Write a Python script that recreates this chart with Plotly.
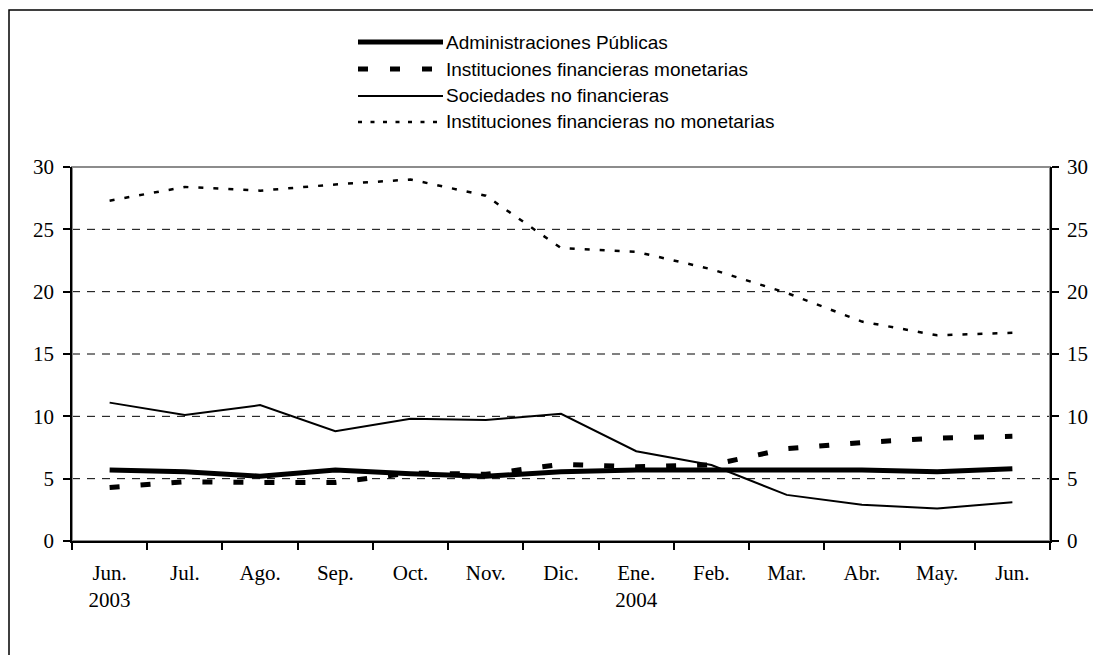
import plotly.graph_objects as go

# ---------------- data ----------------
months = ["2003-06", "2003-07", "2003-08", "2003-09", "2003-10", "2003-11", "2003-12",
          "2004-01", "2004-02", "2004-03", "2004-04", "2004-05", "2004-06"]
tick_labels = ["Jun.<br>2003", "Jul.", "Ago.", "Sep.", "Oct.", "Nov.", "Dic.",
               "Ene.<br>2004", "Feb.", "Mar.", "Abr.", "May.", "Jun."]

admin_publicas = [5.7, 5.55, 5.2, 5.7, 5.4, 5.2, 5.55, 5.7, 5.7, 5.7, 5.7, 5.55, 5.8]
ifm = [4.3, 4.75, 4.7, 4.7, 5.45, 5.35, 6.15, 5.95, 6.1, 7.4, 7.9, 8.25, 8.4]
sociedades_nf = [11.1, 10.1, 10.9, 8.8, 9.8, 9.7, 10.2, 7.2, 6.1, 3.7, 2.9, 2.6, 3.1]
ifnm = [27.3, 28.4, 28.1, 28.6, 29.0, 27.7, 23.5, 23.2, 21.8, 19.9, 17.6, 16.5, 16.7]

series_names = ["Administraciones Públicas", "Instituciones financieras monetarias",
                "Sociedades no financieras", "Instituciones financieras no monetarias"]

y_ticks = [0, 5, 10, 15, 20, 25, 30]

# ---------------- layout geometry ----------------
OFF = 8  # page body margin
W, H = 1101 - OFF, 655 - OFF
L, R, T, B = 72 - OFF, 1050 - OFF, 167 - OFF, 541 - OFF  # plot area in figure pixels


def px_x(p):
    return (p - OFF - L) / (R - L)


def px_y(p):
    return (B - (p - OFF)) / (B - T)


fig = go.Figure()

styles = [
    dict(color="black", width=5),
    dict(color="black", width=5, dash="10px,21px"),
    dict(color="black", width=2),
    dict(color="black", width=2.5, dash="5px,10px"),
]
data = [admin_publicas, ifm, sociedades_nf, ifnm]

for i, (name, vals, st) in enumerate(zip(series_names, data, styles)):
    fig.add_trace(go.Scatter(
        x=months, y=vals, name=name, mode="lines", line=st,
        yaxis="y2" if i == 3 else "y", showlegend=False,
    ))

shapes = []
# horizontal dashed gridlines
for v in y_ticks[1:-1]:
    shapes.append(dict(type="line", xref="paper", x0=0, x1=1, yref="y", y0=v, y1=v,
                       line=dict(color="black", width=1, dash="8px,7px"), layer="below"))
# plot-area border (gray)
shapes.append(dict(type="rect", xref="paper", yref="paper", x0=0, x1=1, y0=0, y1=1,
                   line=dict(color="#8c8c8c", width=2), layer="below"))
# outer chart border
shapes.append(dict(type="rect", xref="paper", yref="paper",
                   x0=px_x(9), x1=px_x(1115), y0=px_y(670), y1=px_y(10),
                   line=dict(color="black", width=1.5), layer="below"))

# custom legend
legend_rows = [42, 69, 96, 122]
legend_dash = [None, "10px,22px", None, "4px,8.5px"]
legend_width = [5, 5, 2, 2.5]
annotations = []
for name, yy, dsh, lw in zip(series_names, legend_rows, legend_dash, legend_width):
    ln = dict(color="black", width=lw)
    if dsh:
        ln["dash"] = dsh
    shapes.append(dict(type="line", xref="paper", yref="paper",
                       x0=px_x(358), x1=px_x(443), y0=px_y(yy), y1=px_y(yy), line=ln))
    annotations.append(dict(xref="paper", yref="paper", x=px_x(444), y=px_y(yy),
                            xanchor="left", yanchor="middle", showarrow=False,
                            text=name, font=dict(family="Liberation Sans, Arial", size=19,
                                                 color="black")))

tick_font = dict(family="Liberation Serif, Times New Roman", size=21, color="black")

fig.update_layout(
    width=W, height=H,
    margin=dict(l=L, r=W - R, t=T, b=H - B, autoexpand=False),
    paper_bgcolor="white", plot_bgcolor="white",
    shapes=shapes, annotations=annotations,
    showlegend=False,
    xaxis=dict(type="category", categoryorder="array", categoryarray=months,
               tickmode="array", tickvals=months, ticktext=tick_labels,
               tickson="boundaries", ticks="outside", ticklen=7, tickwidth=1.5,
               tickcolor="black", showline=True, linecolor="black", linewidth=1.5,
               showgrid=False, zeroline=False, tickfont=tick_font,
               ticklabelstandoff=12, range=[-0.5, 12.5], fixedrange=True),
    yaxis=dict(range=[0, 30], tickvals=y_ticks, ticks="outside", ticklen=7,
               tickwidth=1.5, tickcolor="black", showline=True, linecolor="black",
               linewidth=1.5, showgrid=False, zeroline=False, tickfont=tick_font,
               ticklabelstandoff=5, fixedrange=True),
    yaxis2=dict(range=[0, 30], tickvals=y_ticks, overlaying="y", side="right",
                anchor="x", ticks="outside", ticklen=7, tickwidth=1.5,
                tickcolor="black", showline=True, linecolor="black", linewidth=1.5,
                showgrid=False, zeroline=False, tickfont=tick_font,
                ticklabelstandoff=4, fixedrange=True),
)

fig.write_html("out.html")
